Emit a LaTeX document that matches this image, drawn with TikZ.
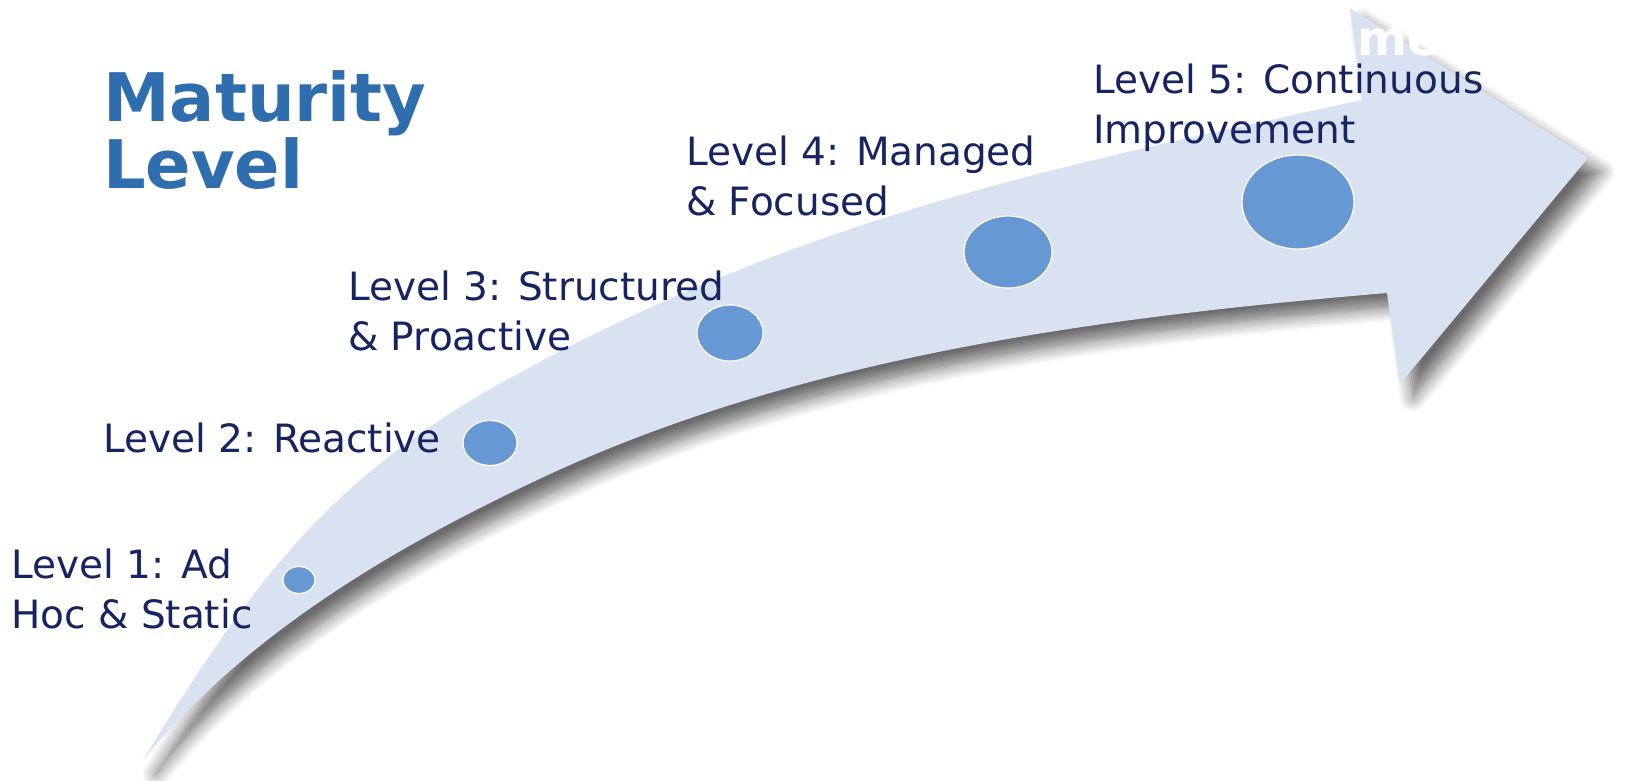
\documentclass[tikz,border=0pt]{standalone}
\usepackage{fontspec}
\setmainfont{DejaVu Sans}
\usetikzlibrary{shapes.geometric,shadows.blur}
\definecolor{bandblue}{RGB}{217,226,240}
\definecolor{dotblue}{RGB}{102,152,211}
\definecolor{labelnavy}{RGB}{22,36,98}
\definecolor{titleblue}{RGB}{46,109,174}
\tikzset{band/.style={fill=bandblue,blur shadow={shadow xshift=13pt,shadow yshift=-14pt,shadow blur radius=14pt,shadow blur steps=8,shadow opacity=58}},
  dot/.style={ellipse,draw=white,line width=1.2pt,fill=dotblue,inner sep=0pt},
  lvl/.style={anchor=base west,align=left,inner sep=0pt,text=labelnavy,font=\fontsize{39}{50}\selectfont}}

\begin{document}
\begin{tikzpicture}[x=1pt,y=-1pt]
\useasboundingbox (0,0) rectangle (1627,780);
% curved arrow: upper edge, head, lower edge back to the tail
\path[band] (143,760) .. controls (257,573) and (335,474) .. (510,378)
  .. controls (808,214) and (1069,164) .. (1362,100)
  -- (1350,8) -- (1588,158) -- (1400,384) -- (1387,293)
  .. controls (1103,317) and (809,355) .. (550,474)
  .. controls (399,544) and (248,632) .. (143,760) -- cycle;
\node[font=\fontsize{48}{48}\selectfont\bfseries,text=white,anchor=base west,inner sep=0pt] (tag) at (1357,55) {men};
% title
\node[anchor=base west,align=left,inner sep=0pt,text=titleblue,font=\fontsize{67}{63}\selectfont\bfseries] (title) at (103,188) {Maturity\\Level};
% stage markers
\node[dot,minimum width=32pt,minimum height=27pt] (s1) at (299,580) {};
\node[dot,minimum width=54pt,minimum height=45pt] (s2) at (490,443) {};
\node[dot,minimum width=66pt,minimum height=56pt] (s3) at (730,333) {};
\node[dot,minimum width=88pt,minimum height=72pt] (s4) at (1008,252) {};
\node[dot,minimum width=112pt,minimum height=94pt] (s5) at (1298,202) {};
% stage labels (base = last line)
\node[lvl] (l1) at (11,628) {Level 1: Ad\\Hoc \& Static};
\node[lvl] (l2) at (103,452) {Level 2: Reactive};
\node[lvl] (l3) at (348,350) {Level 3: Structured\\\& Proactive};
\node[lvl] (l4) at (686,215) {Level 4: Managed\\\& Focused};
\node[lvl] (l5) at (1093,143) {Level 5: Continuous\\Improvement};
\end{tikzpicture}
\end{document}
